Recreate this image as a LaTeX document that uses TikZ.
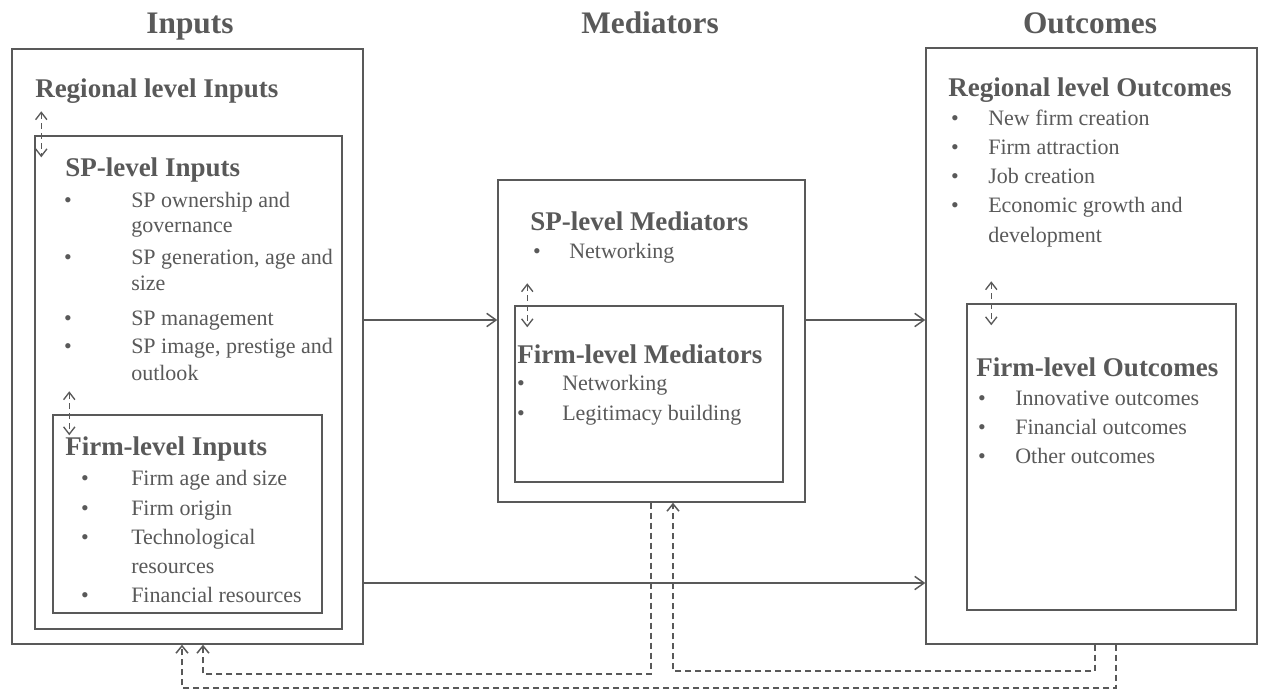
\documentclass[tikz,border=0pt]{standalone}
\usepackage{fontspec}
\setmainfont{Liberation Serif}
\usetikzlibrary{arrows.meta,fit,calc}
\definecolor{ink}{HTML}{595959}
\tikzset{
  x=0.75pt, y=-0.75pt,
  boxstyle/.style={draw=ink, line width=1.1pt, inner sep=0pt, rectangle},
  ttl/.style={text=ink, font=\fontsize{23.5}{26}\selectfont\bfseries, anchor=base, inner sep=0pt},
  hd/.style={text=ink, font=\fontsize{20.25}{24}\selectfont\bfseries, anchor=base west, inner sep=0pt},
  bd/.style={text=ink, font=\fontsize{16.5}{20}\selectfont, anchor=base west, inner sep=0pt},
  bl/.style={text=ink, font=\fontsize{16.5}{20}\selectfont, anchor=base, inner sep=0pt},
  arr/.style={draw=ink, line width=1.1pt, -{Straight Barb[length=7pt,width=10pt,line width=1.1pt]}},
  darr/.style={draw=ink, line width=1.1pt, dash pattern=on 4.5pt off 3pt, -{Straight Barb[length=5.5pt,width=9pt,line width=1.1pt]}},
  dbl/.style={draw=ink, line width=1pt, dash pattern=on 4.5pt off 3pt, {Straight Barb[length=5.5pt,width=8.5pt,line width=1pt]}-{Straight Barb[length=5.5pt,width=8.5pt,line width=1pt]}},
}
\begin{document}
\begin{tikzpicture}
\useasboundingbox (0,0) rectangle (1281,690);
\fill[white] (0,0) rectangle (1281,690);

% titles
\node (tin) [ttl] at (190,33) {Inputs};
\node (tme) [ttl] at (650,33) {Mediators};
\node (tou) [ttl] at (1090,33) {Outcomes};

% boxes
\coordinate (a1) at (12,49);   \coordinate (a2) at (363,644);
\coordinate (b1) at (35,136);  \coordinate (b2) at (342,629);
\coordinate (c1) at (53,415);  \coordinate (c2) at (322,613);
\coordinate (d1) at (498,180); \coordinate (d2) at (805,502);
\coordinate (e1) at (515,306); \coordinate (e2) at (783,482);
\coordinate (f1) at (926,48);  \coordinate (f2) at (1257,644);
\coordinate (g1) at (967,304); \coordinate (g2) at (1236,610);
\node (inputs) [boxstyle, fit={(a1) (a2)}] {};
\node (spin)   [boxstyle, fit={(b1) (b2)}] {};
\node (fin)    [boxstyle, fit={(c1) (c2)}] {};
\node (med)    [boxstyle, fit={(d1) (d2)}] {};
\node (fmed)   [boxstyle, fit={(e1) (e2)}] {};
\node (outc)   [boxstyle, fit={(f1) (f2)}] {};
\node (fout)   [boxstyle, fit={(g1) (g2)}] {};

% Inputs texts
\node (h1) [hd] at (35,97) {Regional level Inputs};
\node (h2) [hd] at (65,176) {SP-level Inputs};
\node (s1b) [bl] at (68,207) {\textbullet};
\node (s1a) [bd] at (131,207) {SP ownership and};
\node (s1c) [bd] at (131,232) {governance};
\node (s2b) [bl] at (68,264) {\textbullet};
\node (s2a) [bd] at (131,264) {SP generation, age and};
\node (s2c) [bd] at (131,290) {size};
\node (s3b) [bl] at (68,325) {\textbullet};
\node (s3a) [bd] at (131,325) {SP management};
\node (s4b) [bl] at (68,353) {\textbullet};
\node (s4a) [bd] at (131,353) {SP image, prestige and};
\node (s4c) [bd] at (131,380) {outlook};
\node (h3) [hd] at (65,455) {Firm-level Inputs};
\node (f1b) [bl] at (85,485) {\textbullet};
\node (f1a) [bd] at (131,485) {Firm age and size};
\node (f2b) [bl] at (85,515) {\textbullet};
\node (f2a) [bd] at (131,515) {Firm origin};
\node (f3b) [bl] at (85,544) {\textbullet};
\node (f3a) [bd] at (131,544) {Technological};
\node (f3c) [bd] at (131,573) {resources};
\node (f4b) [bl] at (85,602) {\textbullet};
\node (f4a) [bd] at (131,602) {Financial resources};

% Mediators texts
\node (h4) [hd] at (530,230) {SP-level Mediators};
\node (m1b) [bl] at (537,258) {\textbullet};
\node (m1a) [bd] at (569,258) {Networking};
\node (h5) [hd] at (517,363) {Firm-level Mediators};
\node (m2b) [bl] at (521,390) {\textbullet};
\node (m2a) [bd] at (562,390) {Networking};
\node (m3b) [bl] at (521,420) {\textbullet};
\node (m3a) [bd] at (562,420) {Legitimacy building};

% Outcomes texts
\node (h6) [hd] at (948,96) {Regional level Outcomes};
\node (o1b) [bl] at (955,125) {\textbullet};
\node (o1a) [bd] at (988,125) {New firm creation};
\node (o2b) [bl] at (955,154) {\textbullet};
\node (o2a) [bd] at (988,154) {Firm attraction};
\node (o3b) [bl] at (955,183) {\textbullet};
\node (o3a) [bd] at (988,183) {Job creation};
\node (o4b) [bl] at (955,212) {\textbullet};
\node (o4a) [bd] at (988,212) {Economic growth and};
\node (o4c) [bd] at (988,242) {development};
\node (h7) [hd] at (976,376) {Firm-level Outcomes};
\node (p1b) [bl] at (982,405) {\textbullet};
\node (p1a) [bd] at (1015,405) {Innovative outcomes};
\node (p2b) [bl] at (982,434) {\textbullet};
\node (p2a) [bd] at (1015,434) {Financial outcomes};
\node (p3b) [bl] at (982,463) {\textbullet};
\node (p3a) [bd] at (1015,463) {Other outcomes};

% main arrows
\coordinate (yA) at (0,320);
\coordinate (yB) at (0,583);
\draw[arr] (inputs.east |- yA) -- (med.west |- yA);
\draw[arr] (med.east |- yA) -- (outc.west |- yA);
\draw[arr] (inputs.east |- yB) -- (outc.west |- yB);

% small double dashed arrows
\draw[dbl] ($(spin.north west)+(7,-24)$) -- ($(spin.north west)+(7,22)$);
\draw[dbl] ($(fin.north west)+(17,-23)$) -- ($(fin.north west)+(17,21)$);
\draw[dbl] ($(fmed.north west)+(13,-22)$) -- ($(fmed.north west)+(13,22)$);
\draw[dbl] ($(fout.north west)+(25,-22)$) -- ($(fout.north west)+(25,22)$);

% feedback dashed connectors
\coordinate (k1) at (651,674);
\coordinate (k2) at (203,674);
\coordinate (k3) at (1095,671);
\coordinate (k4) at (673,671);
\coordinate (k5) at (1116,688);
\coordinate (k6) at (182,688);
\draw[darr] (med.south -| k1) -- (k1) -- (k2) -- (inputs.south -| k2);
\draw[darr] (outc.south -| k3) -- (k3) -- (k4) -- (med.south -| k4);
\draw[darr] (outc.south -| k5) -- (k5) -- (k6) -- (inputs.south -| k6);
\end{tikzpicture}
\end{document}
